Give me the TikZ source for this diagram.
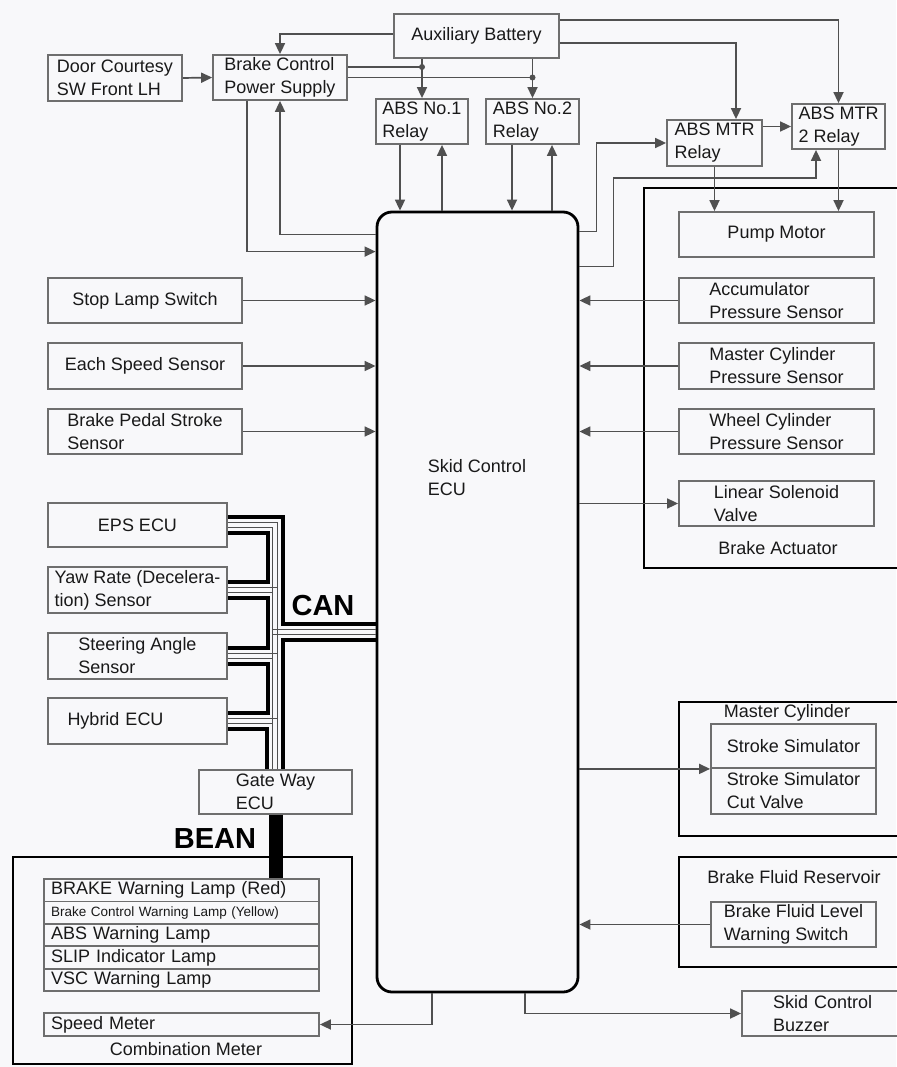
\documentclass[tikz,border=0pt]{standalone}
\usepackage{fontspec}
\setmainfont{Liberation Sans}
\usetikzlibrary{arrows.meta, positioning, calc}
\definecolor{bggray}{RGB}{248,248,250}
\definecolor{wiregray}{RGB}{80,80,80}
\definecolor{boxgray}{RGB}{110,110,110}
\definecolor{inkgray}{RGB}{25,25,25}

\begin{document}
\begin{tikzpicture}[x=1pt, y=-1pt,
  lbl/.style={font=\fontsize{18}{23}\selectfont, text=inkgray, align=left, inner sep=0pt},
  blk/.style={lbl, draw=boxgray, line width=1.8pt, rectangle},
  sz/.style 2 args={minimum width=#1pt, minimum height=#2pt},
  grp/.style={draw=black, line width=2.8pt},
  wire/.style={draw=wiregray, line width=1.7pt},
  arr/.style={wire, -{Triangle[length=11pt,width=10pt]}},
  canwire/.style={draw=black, line width=4.5pt},
  canthin/.style={draw=wiregray, line width=1.3pt},
  busname/.style={font=\fontsize{29}{29}\selectfont\bfseries, text=black, inner sep=0pt}]

  \useasboundingbox (0,0) rectangle (896,1067);
  \fill[bggray] (0,0) rectangle (896,1067);

  % group frames
  \draw[grp] (644,188) rectangle (910,568);
  \draw[grp] (679,702) rectangle (910,836);
  \draw[grp] (679,857) rectangle (910,967);
  \draw[grp] (13,857) rectangle (352,1064);

  % power supply and relays
  \node[blk, sz={134}{46}] (door) at (115,78) {Door Courtesy\\SW Front LH};
  \node[blk, sz={134}{45}] (bcps) at (280,77.5) {Brake Control\\Power Supply};
  \node[blk, sz={165}{44}] (aux) at (476.5,36) {Auxiliary Battery};
  \node[blk, sz={92}{45}] (abs1) at (422,121.5) {ABS No.1\\Relay};
  \node[blk, sz={93}{45}] (abs2) at (532.5,121.5) {ABS No.2\\Relay};
  \node[blk, sz={95}{46}] (mtr1) at (714.5,143) {ABS MTR\\Relay};
  \node[blk, sz={93}{45}] (mtr2) at (838.5,126.5) {ABS MTR\\2 Relay};

  % skid control ECU
  \node[draw=black, line width=2.8pt, rounded corners=15pt, sz={201}{780}] (ecu) at (477.5,602) {};
  \node[lbl] (ecutxt) at (477,478) {Skid Control\\ECU};

  % left inputs
  \node[blk, sz={194}{45}] (stop) at (145,300.5) {Stop Lamp Switch};
  \node[blk, sz={194}{46}] (speed) at (145,366) {Each Speed Sensor};
  \node[blk, sz={194}{45}] (pedal) at (145,431.5) {Brake Pedal Stroke\\Sensor};

  % brake actuator
  \node[blk, sz={195}{45}] (pump) at (776.5,234.5) {Pump Motor};
  \node[blk, sz={195}{45}] (acc) at (776.5,300.5) {Accumulator\\Pressure Sensor};
  \node[blk, sz={195}{46}] (mcp) at (776.5,366) {Master Cylinder\\Pressure Sensor};
  \node[blk, sz={195}{45}] (wcp) at (776.5,431.5) {Wheel Cylinder\\Pressure Sensor};
  \node[blk, sz={195}{45}] (lsv) at (776.5,503.5) {Linear Solenoid\\Valve};
  \node[lbl] (actlbl) at (778,548) {Brake Actuator};

  % master cylinder, reservoir, buzzer
  \node[lbl] (mclbl) at (787,713) {Master Cylinder};
  \node[blk, sz={165}{44}] (sim) at (793.5,746) {Stroke Simulator};
  \node[blk, sz={165}{46}] (cut) at (793.5,791) {Stroke Simulator\\Cut Valve};
  \node[lbl] (reslbl) at (794,877) {Brake Fluid Reservoir};
  \node[blk, sz={165}{45}] (lvl) at (793.5,924.5) {Brake Fluid Level\\Warning Switch};
  \node[blk, sz={168}{45}, text width=106pt] (buzz) at (826,1013.5) {Skid Control\\Buzzer};

  % CAN members
  \node[blk, sz={179}{44}] (eps) at (137.5,525) {EPS ECU};
  \node[blk, sz={179}{46}] (yaw) at (137.5,590) {Yaw Rate (Decelera-\\tion) Sensor};
  \node[blk, sz={179}{46}] (steer) at (137.5,656) {Steering Angle\\Sensor};
  \node[blk, sz={179}{46}, text width=140pt] (hybrid) at (137.5,721) {Hybrid ECU};
  \node[blk, sz={153}{44}] (gw) at (275.5,792) {Gate Way\\ECU};

  % combination meter
  \foreach \lamptext/\lampsize [count=\i] in {{BRAKE Warning Lamp (Red)}/18, {Brake Control Warning Lamp (Yellow)}/13.5, {ABS Warning Lamp}/18, {SLIP Indicator Lamp}/18, {VSC Warning Lamp}/18}
    \node[blk, sz={275}{22.4}, text width=261pt, font=\fontsize{\lampsize}{\lampsize}\selectfont] (lamp\i) at (181.5,{867.8+22.4*\i}) {\lamptext};
  \node[blk, sz={275}{23}, text width=261pt] (speedm) at (181.5,1024.5) {Speed Meter};
  \node[lbl] (cmlbl) at (186,1049) {Combination Meter};

  \node[busname] (canlbl) at (323,606) {CAN};
  \node[busname] (beanlbl) at (215,839) {BEAN};

  % power feeds
  \draw[arr] (door.east) -- (bcps.west);
  \draw[arr] ([yshift=2pt]aux.west) -| (bcps.north);
  \draw[arr] ([yshift=-7pt]aux.east) -| ([xshift=21.5pt]mtr1.north);
  \draw[arr] ([yshift=16pt]aux.east) -| (mtr2.north);
  \draw[arr] (aux.south -| abs1.north) -- (abs1.north);
  \draw[arr] (aux.south -| abs2.north) -- (abs2.north);
  \coordinate (bp1) at ([yshift=10.5pt]bcps.east);
  \draw[wire] (bp1) -- (bp1 -| abs1.north);
  \draw[wire] (bcps.east) -- (bcps.east -| abs2.north);
  \fill[wiregray] (bp1 -| abs1.north) circle (3pt);
  \fill[wiregray] (bcps.east -| abs2.north) circle (3pt);
  \draw[arr] (mtr2.west -| mtr1.east) -- (mtr2.west);
  \draw[arr] (mtr1.south) -- (mtr1.south |- pump.north);
  \draw[arr] (mtr2.south) -- (mtr2.south |- pump.north);

  % relays <-> ECU
  \foreach \r/\dn/\up in {abs1/-22/20, abs2/-20.5/19.5} {
    \coordinate (\r d) at ([xshift=\dn pt]\r.south);
    \coordinate (\r u) at ([xshift=\up pt]\r.south);
    \draw[arr] (\r d) -- (\r d |- ecu.north);
    \draw[arr] (\r u |- ecu.north) -- (\r u);
  }
  \draw[arr] ([xshift=-33pt]bcps.south) |- ([yshift=-41pt]ecu.north west);
  \draw[arr] ([yshift=-24pt]ecu.north west) -| (bcps.south);
  \draw[arr] ([yshift=-21pt]ecu.north east) -- ++(17,0) |- (mtr1.west);
  \draw[arr] ([yshift=-56pt]ecu.north east) -- ++(34,0) |- ([xshift=-22.5pt,yshift=-28pt]mtr2.south) -- ([xshift=-22.5pt]mtr2.south);

  % sensors and outputs
  \foreach \s in {stop, speed, pedal}
    \draw[arr] (\s.east) -- (\s.east -| ecu.west);
  \foreach \s in {acc, mcp, wcp, lvl}
    \draw[arr] (\s.west) -- (\s.west -| ecu.east);
  \draw[arr] (ecu.east |- lsv.west) -- (lsv.west);
  \draw[arr] (ecu.east |- sim.south west) -- (sim.south west);
  \draw[arr] ([xshift=-45.5pt]ecu.south) |- (speedm.east);
  \draw[arr] ([xshift=47.5pt]ecu.south) |- (buzz.west);

  % CAN bus
  \coordinate (canjoin) at (275.5,632);
  \coordinate (canend) at (ecu.west |- canjoin);
  \draw[canwire] ([yshift=8pt]eps.east) -| ([xshift=7.5pt,yshift=8pt]canjoin) -- ([yshift=8pt]canend);
  \draw[canwire] ([yshift=-8pt]canend) -- ([xshift=7.5pt,yshift=-8pt]canjoin) -- ([xshift=7.5pt]gw.north);
  \foreach \a/\b in {eps/yaw, yaw/steer, steer/hybrid}
    \draw[canwire] ([yshift=-8pt]\a.east) -- ++(40,0) |- ([yshift=8pt]\b.east);
  \draw[canwire] ([yshift=-8pt]hybrid.east) -| ([xshift=-8.5pt]gw.north);
  \draw[canthin] ([yshift=2.5pt]eps.east) -| ([xshift=2pt]gw.north);
  \draw[canthin] ([yshift=-2.5pt]eps.east) -| ([xshift=-3pt]gw.north);
  \foreach \d in {yaw, steer, hybrid} {
    \draw[canthin] ([yshift=2.5pt]\d.east) -- ++(50.5,0);
    \draw[canthin] ([yshift=-2.5pt]\d.east) -- ++(45.5,0);
  }
  \draw[canthin] ([yshift=2.5pt]canend) -- ([xshift=-3pt,yshift=2.5pt]canjoin);
  \draw[canthin] ([yshift=-2.5pt]canend) -- ([xshift=-3pt,yshift=-2.5pt]canjoin);

  % BEAN
  \draw[line width=14pt] (gw.south) -- (gw.south |- lamp1.north);
\end{tikzpicture}
\end{document}
